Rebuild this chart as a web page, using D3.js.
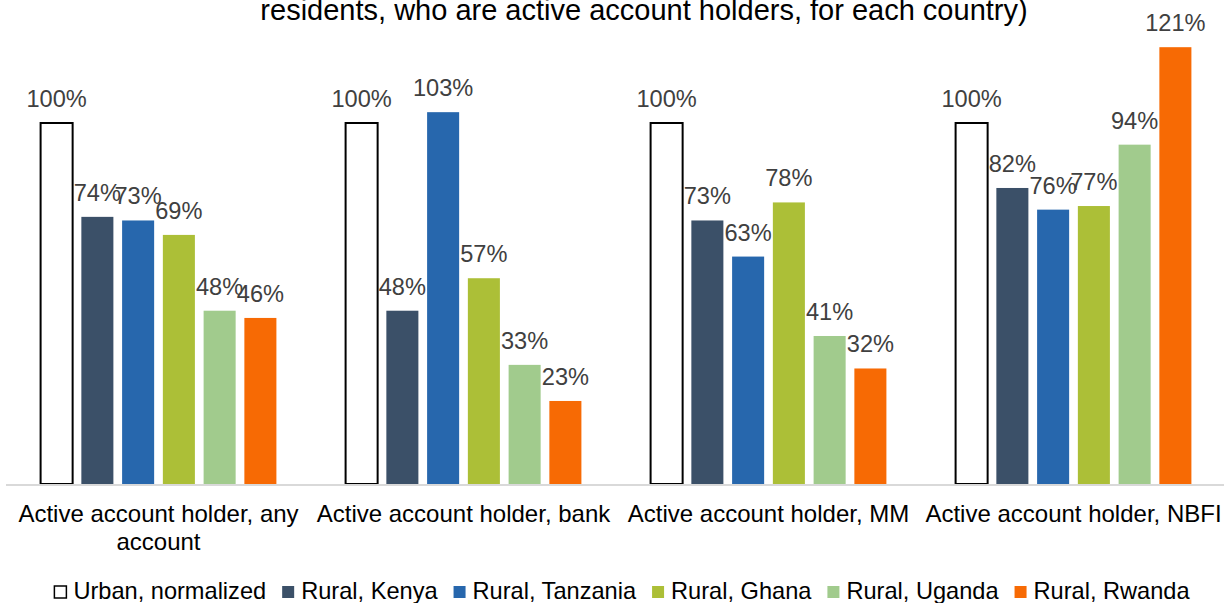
<!DOCTYPE html>
<html lang="en">
<head>
    <meta charset="UTF-8">
    <title>Active account holders, rural vs urban</title>
    <script src="https://cdn.jsdelivr.net/npm/d3@7/dist/d3.min.js"></script>
    <style>
        body { margin: 0; background: #fff; }
        svg { display: block; font-family: "Liberation Sans", Arial, sans-serif; }
        .value-label { fill: #404040; font-size: 23.6px; text-anchor: middle; }
        .cat-label { fill: #000; font-size: 24px; text-anchor: middle; }
        .legend text { fill: #000; font-size: 23.6px; }
        .title { fill: #000; font-size: 29px; text-anchor: middle; }
    </style>
</head>
<body>
<script>
    // canvas size
    const width = 1224;
    const height = 603;

    // categories and series
    const categories = [
        'Active account holder, any account',
        'Active account holder, bank',
        'Active account holder, MM',
        'Active account holder, NBFI'
    ];
    const seriesNames = ['Urban, normalized', 'Rural, Kenya', 'Rural, Tanzania', 'Rural, Ghana', 'Rural, Uganda', 'Rural, Rwanda'];
    const seriesColors = ['#ffffff', '#3b5068', '#2767ad', '#acbf37', '#a1cb8d', '#f76a04'];

    // values per series, one number per category (share, urban = 1)
    const urban    = [1.00, 1.00, 1.00, 1.00];
    const kenya    = [0.74, 0.48, 0.73, 0.82];
    const tanzania = [0.73, 1.03, 0.63, 0.76];
    const ghana    = [0.69, 0.57, 0.78, 0.77];
    const uganda   = [0.48, 0.33, 0.41, 0.94];
    const rwanda   = [0.46, 0.23, 0.32, 1.21];
    const seriesValues = [urban, kenya, tanzania, ghana, uganda, rwanda];

    const titleLine = 'residents, who are active account holders, for each country)';

    // layout
    const plot = {left: 6, right: 1226, top: 123, bottom: 484};

    let svg = d3.select('body')
        .append('svg')
        .attr('width', width)
        .attr('height', height);

    // scales
    let x0 = d3.scaleBand()
        .domain(categories)
        .range([plot.left, plot.right]);

    let x1 = d3.scaleBand()
        .domain(seriesNames)
        .range([34.6, x0.bandwidth() - 34.6])
        .paddingInner(0.214);

    let y = d3.scaleLinear()
        .domain([0, 1])
        .range([plot.bottom, plot.top]);

    // title (its first line sits above the picture, as in the source)
    svg.append('text')
        .attr('class', 'title')
        .attr('x', 644)
        .attr('y', 20)
        .text(titleLine);

    // flat table for bars
    let rows = [];
    categories.forEach((c, ci) => {
        seriesNames.forEach((s, si) => {
            rows.push({cat: c, series: s, si: si, value: seriesValues[si][ci]});
        });
    });

    // bars
    let groups = svg.append('g')
        .selectAll('g')
        .data(categories)
        .enter()
        .append('g')
        .attr('transform', d => `translate(${x0(d)},0)`);

    groups.selectAll('rect')
        .data(c => rows.filter(r => r.cat === c))
        .enter()
        .append('rect')
        .attr('x', d => x1(d.series))
        .attr('y', d => y(d.value))
        .attr('width', x1.bandwidth())
        .attr('height', d => y(0) - y(d.value))
        .attr('fill', d => seriesColors[d.si])
        .attr('stroke', d => d.si === 0 ? '#000' : 'none')
        .attr('stroke-width', 2);

    // axis line
    svg.append('line')
        .attr('x1', plot.left)
        .attr('x2', plot.right)
        .attr('y1', y(0) + 1)
        .attr('y2', y(0) + 1)
        .attr('stroke', '#d9d9d9')
        .attr('stroke-width', 2);

    // value labels
    groups.selectAll('text')
        .data(c => rows.filter(r => r.cat === c))
        .enter()
        .append('text')
        .attr('class', 'value-label')
        .attr('x', d => x1(d.series) + x1.bandwidth() / 2)
        .attr('y', d => y(d.value) - 16)
        .text(d => d3.format('.0%')(d.value));

    // category labels, wrapped to the band width
    let catText = svg.append('g')
        .selectAll('text')
        .data(categories)
        .enter()
        .append('text')
        .attr('class', 'cat-label')
        .attr('x', d => x0(d) + x0.bandwidth() / 2)
        .attr('y', 522);

    catText.each(function (d) {
        let el = d3.select(this);
        let words = d.split(' ');
        let line = [];
        let tspan = el.append('tspan').attr('x', el.attr('x')).attr('dy', 0);
        words.forEach(w => {
            line.push(w);
            tspan.text(line.join(' '));
            if (tspan.node().getComputedTextLength() > x0.bandwidth() - 4 && line.length > 1) {
                line.pop();
                tspan.text(line.join(' '));
                line = [w];
                tspan = el.append('tspan').attr('x', el.attr('x')).attr('dy', 27.5).text(w);
            }
        });
    });

    // legend
    let legend = svg.append('g').attr('class', 'legend');
    let items = legend.selectAll('g')
        .data(seriesNames)
        .enter()
        .append('g');

    items.append('rect')
        .attr('width', 12)
        .attr('height', 12)
        .attr('y', -13)
        .attr('fill', (d, i) => seriesColors[i])
        .attr('stroke', (d, i) => i === 0 ? '#000' : 'none')
        .attr('stroke-width', 1.5);

    items.append('text')
        .attr('x', 19)
        .attr('y', 0)
        .text(d => d);

    let offset = 0;
    items.each(function () {
        let g = d3.select(this);
        g.attr('transform', `translate(${offset},599)`);
        offset += 19 + g.select('text').node().getComputedTextLength() + 16;
    });
    let total = offset - 16;
    legend.attr('transform', `translate(${622 - total / 2},0)`);
</script>
</body>
</html>
